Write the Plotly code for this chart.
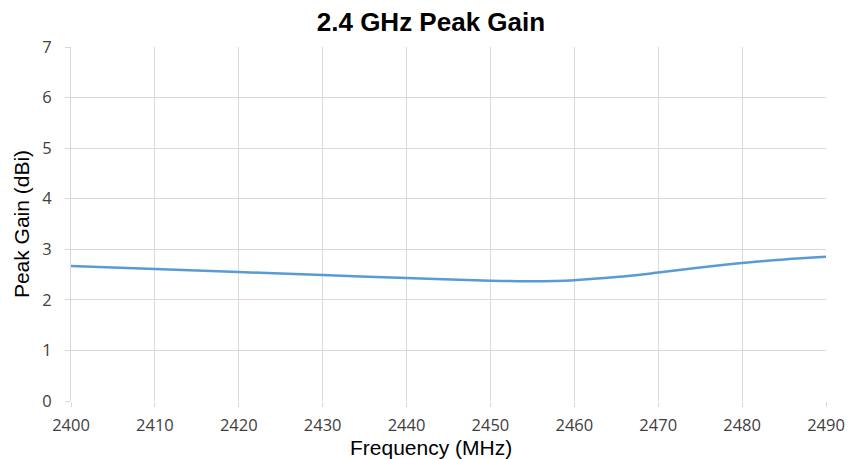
import plotly.graph_objects as go

freq_mhz = [2400, 2410, 2420, 2430, 2440, 2450, 2455, 2460, 2465, 2470, 2475, 2480, 2485, 2490]
peak_gain_dbi = [2.67, 2.61, 2.55, 2.49, 2.43, 2.38, 2.37, 2.39, 2.45, 2.54, 2.64, 2.73, 2.80, 2.85]
x_ticks = [2400, 2410, 2420, 2430, 2440, 2450, 2460, 2470, 2480, 2490]
y_ticks = [0, 1, 2, 3, 4, 5, 6, 7]

fig = go.Figure()
fig.add_trace(go.Scatter(
    x=freq_mhz, y=peak_gain_dbi, mode="lines",
    line=dict(color="#5B9BD5", width=2.5, shape="spline", smoothing=1.0),
    showlegend=False, hoverinfo="skip", cliponaxis=False))

fig.update_layout(
    width=850, height=459,
    margin=dict(l=71, r=24, t=47, b=58, autoexpand=False),
    paper_bgcolor="white", plot_bgcolor="white",
    font=dict(family="Liberation Sans, Arial, sans-serif", color="#000000"),
    title=dict(text="<b>2.4 GHz Peak Gain</b>", x=0.507, xanchor="center",
               xref="container", yref="container",
               y=1 - 22 / 459, yanchor="middle", font=dict(size=26, color="#000000")),
)
# x-axis title centred under the whole figure, as in the reference
fig.add_annotation(
    text="Frequency (MHz)", xref="paper", yref="paper",
    x=(431 - 71) / 755, y=(401 - 447) / 354, xanchor="center", yanchor="middle",
    showarrow=False, font=dict(size=21, color="#000000"))

fig.update_xaxes(
    range=[2400, 2490], tickvals=x_ticks, ticktext=[str(v) for v in x_ticks],
    showgrid=True, gridcolor="#D9D9D9", gridwidth=1,
    showline=False, zeroline=False, automargin=False,
    ticks="outside", ticklen=5, tickcolor="#D9D9D9", ticklabelstandoff=4,
    tickfont=dict(size=16.5, color="#404040", family="Open Sans, sans-serif"),
)
fig.update_yaxes(
    range=[0, 7], tickvals=y_ticks,
    showgrid=True, gridcolor="#D9D9D9", gridwidth=1,
    showline=True, linecolor="#D9D9D9", linewidth=1, zeroline=False, automargin=False,
    ticks="outside", ticklen=5, tickcolor="#D9D9D9", ticklabelstandoff=10,
    tickfont=dict(size=16.5, color="#404040", family="Open Sans, sans-serif"),
    title=dict(text="Peak Gain (dBi)", font=dict(size=21, color="#000000"), standoff=6),
)

fig.write_html("out.html", config={"displayModeBar": False},
               post_script="document.body.style.margin='0';")
